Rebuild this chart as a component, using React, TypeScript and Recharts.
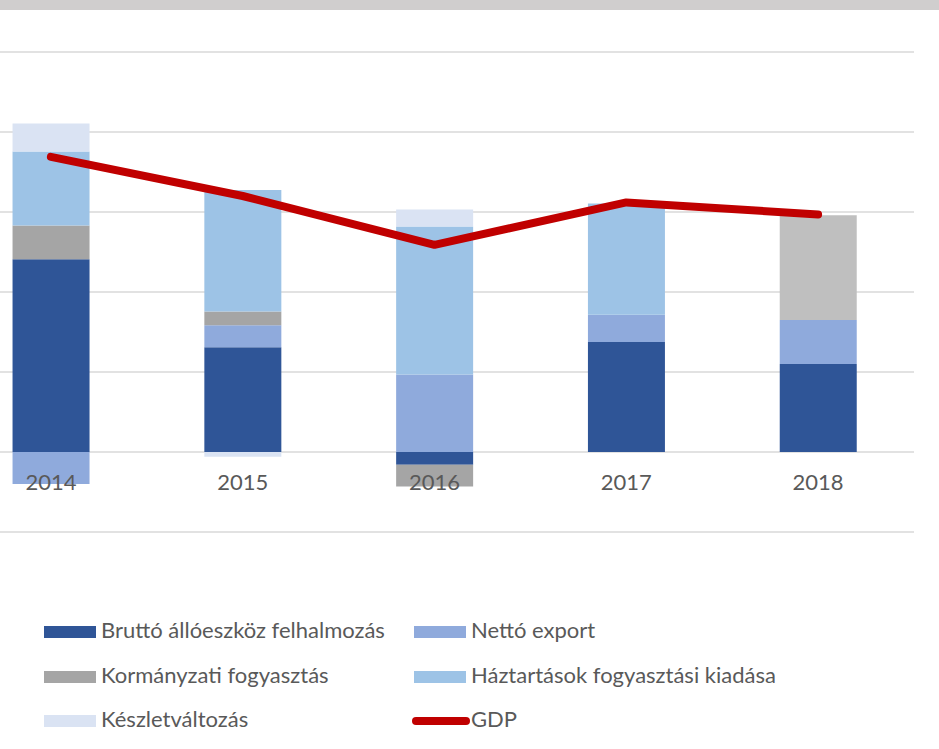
import React from "react";
import { ComposedChart, Bar, Line, XAxis, YAxis, CartesianGrid, Cell } from "recharts";

const YEARS = ["2014", "2015", "2016", "2017", "2018"];
const BRUTTO = [2.41, 1.31, -0.16, 1.375, 1.1];
const NETTO = [-0.4, 0.275, 0.97, 0.34, 0.55];
const KORM = [0.42, 0.17, -0.27, 0, 1.31];
const HAZT = [0.925, 1.52, 1.85, 1.39, 0];
const KESZLET = [0.35, -0.06, 0.21, 0, 0];
const GDP = [3.69, 3.2, 2.59, 3.12, 2.97];
const Y_TICKS = [-1, 0, 1, 2, 3, 4, 5];

const SERIES = [
  { key: "brutto", name: "Bruttó állóeszköz felhalmozás", color: "#2F5597" },
  { key: "netto", name: "Nettó export", color: "#8FAADC" },
  { key: "korm", name: "Kormányzati fogyasztás", color: "#A5A5A5" },
  { key: "hazt", name: "Háztartások fogyasztási kiadása", color: "#9DC3E6" },
  { key: "keszlet", name: "Készletváltozás", color: "#DAE3F3" },
];
const GDP_COLOR = "#C00000";
// 2018-as kormányzati oszlop világosabb szürke
const KORM_2018 = "#BFBFBF";

const FONT = "Lato, 'Open Sans', sans-serif";
const TEXT = "#595959";

const data = YEARS.map((year, i) => ({
  year,
  brutto: BRUTTO[i],
  netto: NETTO[i],
  korm: KORM[i],
  hazt: HAZT[i],
  keszlet: KESZLET[i],
  gdp: GDP[i],
}));

const YearTick = (props: any) => {
  const { x, y, payload } = props;
  return (
    <text x={x} y={y - 42} textAnchor="middle" fill={TEXT} fontSize={22} fontFamily={FONT}>
      {payload.value}
    </text>
  );
};

const LEGEND_ITEMS = [
  { ...SERIES[0], line: false },
  { ...SERIES[1], line: false },
  { ...SERIES[2], line: false },
  { ...SERIES[3], line: false },
  { ...SERIES[4], line: false },
  { key: "gdp", name: "GDP", color: GDP_COLOR, line: true },
];

function ChartLegend() {
  const cols = [44, 414];
  const rows = [638, 683, 727];
  return (
    <svg width={939} height={149} style={{ position: "absolute", left: 0, top: 600 }}>
      {LEGEND_ITEMS.map((it, i) => {
        const x = cols[i % 2];
        const base = rows[Math.floor(i / 2)] - 600;
        return (
          <g key={it.key}>
            {it.line ? (
              <line x1={x + 2} x2={x + 52} y1={base - 6} y2={base - 6} stroke={it.color} strokeWidth={8} strokeLinecap="round" />
            ) : (
              <rect x={x} y={base - 12} width={52} height={12} fill={it.color} />
            )}
            <text x={x + 57} y={base} fill={TEXT} fontSize={22} fontFamily={FONT}>
              {it.name}
            </text>
          </g>
        );
      })}
    </svg>
  );
}

export default function App() {
  return (
    <div style={{ position: "absolute", left: 0, top: 0, width: 939, height: 749, overflow: "hidden", background: "#fff" }}>
      <div style={{ position: "absolute", left: 0, top: 0, width: 939, height: 10, background: "#D0CECE" }} />
      <div style={{ position: "absolute", left: -45, top: 0 }}>
        <ComposedChart
          width={959}
          height={560}
          data={data}
          stackOffset="sign"
          barCategoryGap="30%"
          margin={{ top: 52, right: 0, bottom: 0, left: 0 }}
        >
          <CartesianGrid vertical={false} stroke="#D9D9D9" strokeWidth={1.5} />
          <YAxis hide domain={[-1, 5]} ticks={Y_TICKS} width={0} />
          <XAxis
            dataKey="year"
            height={28}
            axisLine={false}
            tickLine={false}
            tickSize={0}
            tickMargin={0}
            tick={<YearTick />}
          />
          {SERIES.map((s) => (
            <Bar key={s.key} dataKey={s.key} name={s.name} stackId="a" fill={s.color} isAnimationActive={false}>
              {s.key === "korm" &&
                data.map((d, i) => <Cell key={i} fill={d.year === "2018" ? KORM_2018 : s.color} />)}
            </Bar>
          ))}
          <Line
            dataKey="gdp"
            name="GDP"
            stroke={GDP_COLOR}
            strokeWidth={8}
            strokeLinecap="round"
            strokeLinejoin="round"
            dot={false}
            activeDot={false}
            isAnimationActive={false}
          />
        </ComposedChart>
      </div>
      <ChartLegend />
    </div>
  );
}
